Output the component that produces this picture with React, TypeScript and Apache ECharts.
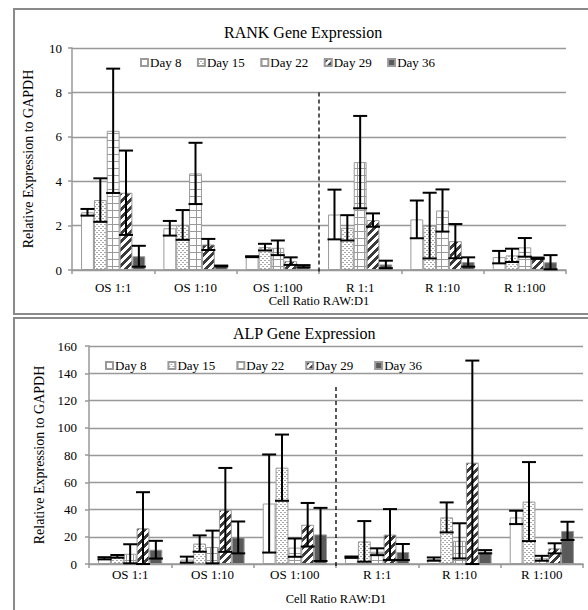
import React, { useEffect, useRef } from "react";
import * as echarts from "echarts";

const categories = ["OS 1:1", "OS 1:10", "OS 1:100", "R 1:1", "R 1:10", "R 1:100"];
const days = ["Day 8", "Day 15", "Day 22", "Day 29", "Day 36"];

// RANK gene expression (means)
const rankDay8 = [2.6, 1.88, 0.6, 2.5, 2.28, 0.58];
const rankDay15 = [3.15, 2.03, 1.03, 1.9, 2.0, 0.66];
const rankDay22 = [6.27, 4.35, 1.0, 4.86, 2.68, 1.02];
const rankDay29 = [3.48, 1.15, 0.4, 2.25, 1.3, 0.53];
const rankDay36 = [0.62, 0.18, 0.17, 0.25, 0.36, 0.35];
// RANK error bar half-widths
const rankErr8 = [0.15, 0.33, 0.02, 1.12, 0.85, 0.28];
const rankErr15 = [0.98, 0.67, 0.15, 0.57, 1.48, 0.3];
const rankErr22 = [2.8, 1.38, 0.33, 2.08, 0.95, 0.42];
const rankErr29 = [1.9, 0.25, 0.17, 0.3, 0.77, 0.03];
const rankErr36 = [0.47, 0.02, 0.05, 0.17, 0.21, 0.32];

// ALP gene expression (means)
const alpDay8 = [4.2, 3.2, 44.4, 5.0, 3.6, 34.2];
const alpDay15 = [5.6, 15.0, 70.7, 16.6, 34.2, 45.8];
const alpDay22 = [7.5, 12.5, 12.0, 9.0, 17.0, 4.2];
const alpDay29 = [26.2, 39.7, 28.8, 21.6, 74.4, 11.5];
const alpDay36 = [10.5, 19.5, 21.7, 8.8, 9.0, 24.3];
// ALP error bar half-widths
const alpErr8 = [0.8, 2.2, 36.0, 0.5, 1.2, 4.9];
const alpErr15 = [1.0, 6.0, 24.3, 14.9, 11.0, 29.0];
const alpErr22 = [7.0, 12.0, 6.7, 2.5, 12.9, 1.8];
const alpErr29 = [26.5, 30.8, 16.0, 18.7, 74.9, 3.7];
const alpErr36 = [6.5, 11.7, 19.5, 5.9, 1.2, 6.7];

const rankTicks = { min: 0, max: 10, interval: 2 };
const alpTicks = { min: 0, max: 160, interval: 20 };

const rankMeans = [rankDay8, rankDay15, rankDay22, rankDay29, rankDay36];
const rankErrs = [rankErr8, rankErr15, rankErr22, rankErr29, rankErr36];
const alpMeans = [alpDay8, alpDay15, alpDay22, alpDay29, alpDay36];
const alpErrs = [alpErr8, alpErr15, alpErr22, alpErr29, alpErr36];

const FONT = "'Liberation Serif', 'Times New Roman', serif";
const GRAY = "#999999";
const CAT_GAP = 0.22;

function makeCanvas(w: number, h: number, fn: (x: number, y: number) => string | null) {
  const c = document.createElement("canvas");
  c.width = w;
  c.height = h;
  const ctx = c.getContext("2d")!;
  for (let y = 0; y < h; y++) {
    for (let x = 0; x < w; x++) {
      const col = fn(x, y);
      if (col) {
        ctx.fillStyle = col;
        ctx.fillRect(x, y, 1, 1);
      }
    }
  }
  return c;
}

function buildFills(): any[] {
  const dotted = makeCanvas(4, 4, (x, y) =>
    (x === 0 && y === 0) || (x === 1 && y === 0) || (x === 2 && y === 2) || (x === 3 && y === 2) ? "#a8a8a8" : "#ffffff"
  );
  const grid = makeCanvas(7, 7, (x, y) => (x === 0 || y === 0 ? "#9a9a9a" : "#ffffff"));
  const stripes = makeCanvas(8, 8, (x, y) => ((x + y) % 8 < 4 ? "#3a3a3a" : "#ffffff"));
  return [
    "#ffffff",
    { image: dotted, repeat: "repeat", imageWidth: 4, imageHeight: 4 },
    { image: grid, repeat: "repeat", imageWidth: 7, imageHeight: 7 },
    { image: stripes, repeat: "repeat", imageWidth: 8, imageHeight: 8 },
    "#5a5a5a",
  ];
}

function errorRender(params: any, api: any) {
  const cat = api.value(0);
  const day = api.value(1);
  const v = api.value(2);
  const e = api.value(3);
  const center = api.coord([cat, v]);
  const band = api.size([1, 0])[0];
  const barW = (band * (1 - CAT_GAP)) / 5;
  const x = center[0] + (day - 2) * barW;
  const yTop = api.coord([cat, v + e])[1];
  const yBot = api.coord([cat, Math.max(v - e, 0)])[1];
  const half = 7;
  const style = { stroke: "#000", lineWidth: 2 };
  return {
    type: "group",
    children: [
      { type: "line", shape: { x1: x, y1: yTop, x2: x, y2: yBot }, style },
      { type: "line", shape: { x1: x - half, y1: yTop, x2: x + half, y2: yTop }, style },
      { type: "line", shape: { x1: x - half, y1: yBot, x2: x + half, y2: yBot }, style },
    ],
  };
}

function dividerRender(topVal: number) {
  return (params: any, api: any) => {
    const a = api.coord([2, 0]);
    const b = api.coord([3, 0]);
    const x = (a[0] + b[0]) / 2;
    const yTop = api.coord([2, topVal])[1];
    return {
      type: "line",
      shape: { x1: x, y1: yTop, x2: x, y2: a[1] + 3 },
      style: { stroke: "#000", lineWidth: 1.3, lineDash: [4, 3] },
    };
  };
}

export default function App() {
  const ref = useRef<HTMLDivElement>(null);
  useEffect(() => {
    if (!ref.current) return;
    const chart = echarts.init(ref.current, undefined, { renderer: "svg" });
    const fills = buildFills();

    const barSeries = (means: number[][], gi: number) =>
      days.map((d, i) => ({
        name: d,
        type: "bar",
        xAxisIndex: gi,
        yAxisIndex: gi,
        data: means[i],
        barGap: "0%",
        barCategoryGap: CAT_GAP * 100 + "%",
        itemStyle: { color: fills[i], borderColor: "#9a9a9a", borderWidth: 1 },
        emphasis: { disabled: true },
        z: 2,
      }));

    const errData = (means: number[][], errs: number[][]) => {
      const out: number[][] = [];
      for (let d = 0; d < days.length; d++) {
        for (let c = 0; c < categories.length; c++) {
          out.push([c, d, means[d][c], errs[d][c]]);
        }
      }
      return out;
    };

    const yAxisBase = (gi: number, t: any, gap: number, lblMargin: number) => ({
      type: "value",
      gridIndex: gi,
      min: t.min,
      max: t.max,
      interval: t.interval,
      name: "Relative Expression to GAPDH",
      nameLocation: "middle",
      nameGap: gap,
      nameTextStyle: { fontFamily: FONT, fontSize: 14, color: "#000" },
      axisLine: { show: true, lineStyle: { color: GRAY, width: 1.5 } },
      axisTick: { show: true, length: 4, lineStyle: { color: GRAY, width: 1.5 } },
      axisLabel: { fontFamily: FONT, fontSize: 13, color: "#000", margin: lblMargin },
      splitLine: { show: true, lineStyle: { color: GRAY, width: 1.4 } },
    });

    const xAxisBase = (gi: number, nameGap: number, lblMargin: number) => ({
      type: "category",
      gridIndex: gi,
      data: categories,
      name: "Cell Ratio RAW:D1",
      nameLocation: "middle",
      nameGap,
      nameTextStyle: { fontFamily: FONT, fontSize: 12.5, color: "#000" },
      axisLine: { show: true, lineStyle: { color: GRAY, width: 1.5 } },
      axisTick: { show: true, length: 4, interval: 0, lineStyle: { color: GRAY, width: 1.5 } },
      axisLabel: { fontFamily: FONT, fontSize: 13, color: "#000", margin: lblMargin, interval: 0 },
      splitLine: { show: false },
    });

    const legendBase = (left: number, top: number, gap: number) => ({
      data: days,
      left,
      top,
      orient: "horizontal",
      icon: "rect",
      itemWidth: 7,
      itemHeight: 7,
      itemGap: gap,
      selectedMode: false,
      padding: 0,
      textStyle: { fontFamily: FONT, fontSize: 13, color: "#000", padding: [0, 0, 0, -3] },
    });

    const option: any = {
      animation: false,
      backgroundColor: "#ffffff",
      title: [
        {
          text: "RANK Gene Expression",
          left: 224,
          top: 24,
          padding: 0,
          textStyle: { fontFamily: FONT, fontSize: 16, fontWeight: "normal", color: "#000" },
        },
        {
          text: "ALP Gene Expression",
          left: 233,
          top: 325,
          padding: 0,
          textStyle: { fontFamily: FONT, fontSize: 16, fontWeight: "normal", color: "#000" },
        },
      ],
      legend: [legendBase(140, 56, 15.5), legendBase(105, 359, 21)],
      grid: [
        { left: 72, top: 48, width: 494, height: 222, containLabel: false },
        { left: 89, top: 346, width: 494, height: 218, containLabel: false },
      ],
      xAxis: [xAxisBase(0, 24, 11), xAxisBase(1, 28, 4)],
      yAxis: [yAxisBase(0, rankTicks, 37, 10), yAxisBase(1, alpTicks, 43, 12)],
      graphic: [
        {
          type: "rect",
          shape: { x: 14, y: 9, width: 600, height: 305 },
          style: { fill: "none", stroke: "#8a8a8a", lineWidth: 2 },
          silent: true,
        },
        {
          type: "rect",
          shape: { x: 14, y: 318, width: 600, height: 320 },
          style: { fill: "none", stroke: "#8a8a8a", lineWidth: 2 },
          silent: true,
        },
      ],
      series: [
        ...barSeries(rankMeans, 0),
        ...barSeries(alpMeans, 1),
        {
          type: "custom",
          name: "rank-err",
          xAxisIndex: 0,
          yAxisIndex: 0,
          data: errData(rankMeans, rankErrs),
          renderItem: errorRender,
          z: 10,
          silent: true,
        },
        {
          type: "custom",
          name: "alp-err",
          xAxisIndex: 1,
          yAxisIndex: 1,
          data: errData(alpMeans, alpErrs),
          renderItem: errorRender,
          z: 10,
          silent: true,
        },
        {
          type: "custom",
          name: "rank-divider",
          xAxisIndex: 0,
          yAxisIndex: 0,
          data: [[0, 0]],
          renderItem: dividerRender(8),
          z: 11,
          silent: true,
        },
        {
          type: "custom",
          name: "alp-divider",
          xAxisIndex: 1,
          yAxisIndex: 1,
          data: [[0, 0]],
          renderItem: dividerRender(130),
          z: 11,
          silent: true,
        },
      ],
    };
    chart.setOption(option);
    return () => chart.dispose();
  }, []);

  return (
    <div
      ref={ref}
      style={{ position: "absolute", left: 0, top: 0, width: 588, height: 610, background: "#fff" }}
    />
  );
}
